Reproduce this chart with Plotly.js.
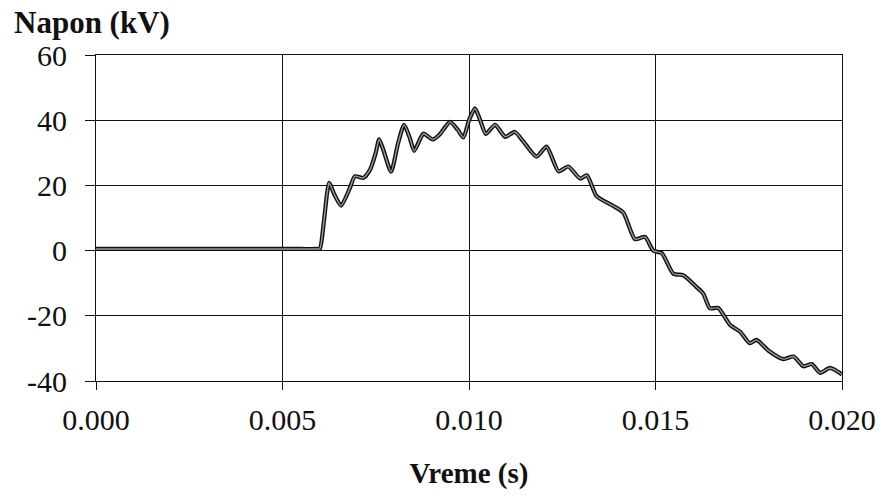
<!DOCTYPE html>
<html>
<head>
<meta charset="utf-8">
<script src="https://cdn.plot.ly/plotly-3.0.1.min.js"></script>
<style>
  html, body { margin: 0; padding: 0; background: #ffffff; }
  #chart { width: 882px; height: 496px; }
</style>
</head>
<body>
<div id="chart"></div>
<script>
// Time (s)
const vreme = [0, 0.0015, 0.0030, 0.0045, 0.0055, 0.0059, 0.0060, 0.0061, 0.0062, 0.00625,
  0.0064, 0.00657, 0.0068, 0.00694, 0.00717,
  0.00735, 0.0075, 0.00759, 0.0077, 0.00791, 0.0081, 0.00826, 0.0084, 0.00853, 0.0087,
  0.00878, 0.00903, 0.00922, 0.00949, 0.0097, 0.00985, 0.0100, 0.01016, 0.0103, 0.01045,
  0.0107, 0.01097, 0.01123, 0.01146, 0.01181, 0.01208, 0.0124, 0.01266, 0.01298, 0.01316,
  0.01342, 0.01387, 0.01414, 0.01445, 0.01472, 0.01494, 0.01517, 0.01548, 0.01575, 0.0161,
  0.01628, 0.01646, 0.01668, 0.0170, 0.01727, 0.01753, 0.01771, 0.01803, 0.01843, 0.0187,
  0.01897, 0.01919, 0.01941, 0.01968, 0.0200];
// Voltage (kV)
const napon = [0.5, 0.5, 0.5, 0.5, 0.5, 0.5, 0.6, 8, 18, 20.8,
  17, 13.8, 19, 22.8, 22.3,
  24.9, 30, 34.1, 31, 24.2, 33, 38.6, 35, 30.6, 34.5,
  35.9, 34.1, 35.7, 39.5, 37, 34.7, 40, 43.6, 40, 35.8,
  38.6, 34.9, 36.4, 33.4, 28.8, 31.9, 24.3, 25.8, 22.1, 23.1,
  16.7, 13.7, 11.6, 3.5, 4.2, 0, -0.8, -7.1, -7.6, -11.2,
  -13.2, -17.7, -17.6, -22.8, -24.9, -28.4, -27.4, -30.7, -33.3, -32.5,
  -35.5, -34.8, -37.5, -36, -38];

const xTicks = [0, 0.005, 0.010, 0.015, 0.020];
const xTickText = ['0.000', '0.005', '0.010', '0.015', '0.020'];
const yTicks = [-40, -20, 0, 20, 40, 60];
const yTickText = ['-40', '-20', '0', '20', '40', '60'];

const serif = 'Liberation Serif, Times New Roman, serif';

const traces = [
  { x: vreme, y: napon, type: 'scatter', mode: 'lines',
    line: { color: '#111111', width: 4.2, shape: 'spline', smoothing: 0.6 },
    hoverinfo: 'skip', showlegend: false },
  { x: vreme, y: napon, type: 'scatter', mode: 'lines',
    line: { color: '#9a9a9a', width: 1.4, shape: 'spline', smoothing: 0.6 },
    showlegend: false }
];

const layout = {
  width: 882, height: 496,
  margin: { l: 96, r: 40, t: 55, b: 115 },
  paper_bgcolor: '#ffffff', plot_bgcolor: '#ffffff',
  font: { family: serif, color: '#111111', size: 30 },
  showlegend: false,
  xaxis: {
    range: [0, 0.020], tickvals: xTicks, ticktext: xTickText,
    showgrid: true, gridcolor: '#111111', gridwidth: 1,
    zeroline: false, showline: true, linecolor: '#111111', linewidth: 1, mirror: true,
    ticks: 'outside', ticklen: 8, tickcolor: '#111111',
    tickfont: { family: serif, size: 30, color: '#111111' },
    ticklabelstandoff: 4,
    title: { text: '<b>Vreme (s)</b>', font: { family: serif, size: 29, color: '#111111' }, standoff: 27 }
  },
  yaxis: {
    range: [-40, 60], tickvals: yTicks, ticktext: yTickText,
    showgrid: true, gridcolor: '#111111', gridwidth: 1,
    zeroline: false, showline: true, linecolor: '#111111', linewidth: 1, mirror: true,
    ticks: 'outside', ticklen: 10, tickcolor: '#111111',
    tickfont: { family: serif, size: 30, color: '#111111' },
    ticklabelstandoff: 12
  },
  annotations: [{
    text: '<b>Napon (kV)</b>', xref: 'paper', yref: 'paper',
    x: -0.113, y: 1.0, xanchor: 'left', yanchor: 'middle', yshift: 33,
    showarrow: false, font: { family: serif, size: 31, color: '#111111' }
  }]
};

Plotly.newPlot('chart', traces, layout, { displayModeBar: false, staticPlot: true });
</script>
</body>
</html>
